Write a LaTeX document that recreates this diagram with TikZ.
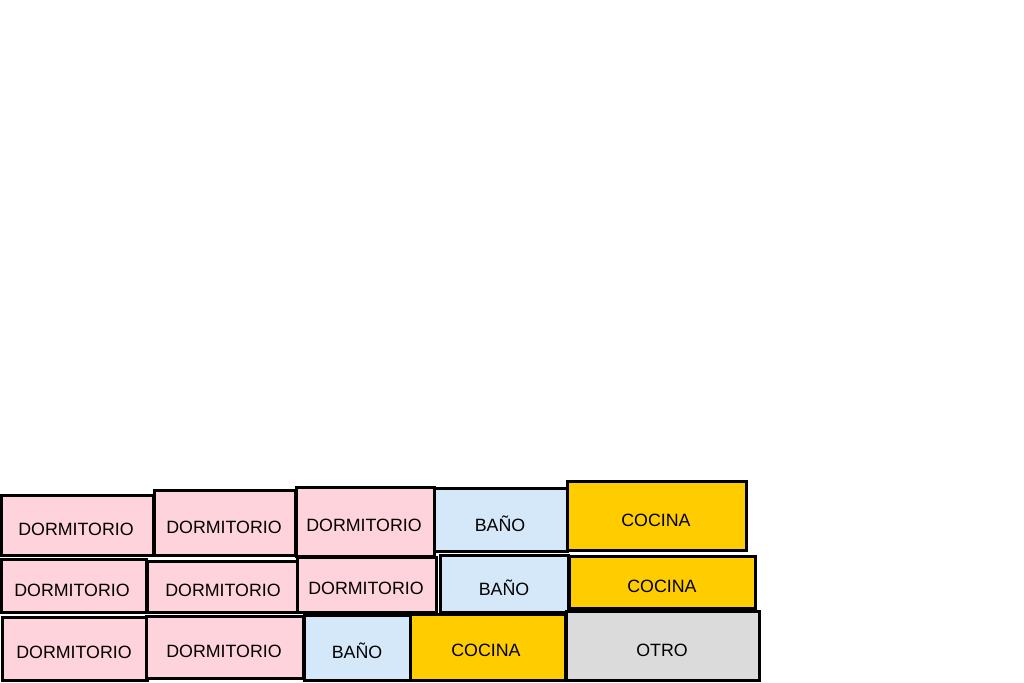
\documentclass[tikz,border=0pt]{standalone}
\usepackage{fontspec}
\setmainfont{Liberation Sans}
\definecolor{dorm}{HTML}{FFD3DC}
\definecolor{bano}{HTML}{D5E8FA}
\definecolor{coc}{HTML}{FFCC00}
\definecolor{otro}{HTML}{DBDBDB}
\tikzset{
  room/.style={draw=black, line width=3pt, line join=miter},
  lbl/.style={inner sep=0pt, font=\fontsize{17.8}{20}\selectfont, text=black}
}
\begin{document}
\begin{tikzpicture}[x=1pt,y=-1pt]
\useasboundingbox[fill=white] (0,0) rectangle (1024,682);
% row 1
\draw[room, fill=dorm] (1,495) rectangle (153,555);
\draw[room, fill=dorm] (154,490) rectangle (295,555);
\draw[room, fill=dorm] (296,487) rectangle (434,556);
\draw[room, fill=bano] (434,488) rectangle (567,551);
\draw[room, fill=coc] (567,481) rectangle (746,550);
% row 2
\draw[room, fill=dorm] (1,559) rectangle (146,612);
\draw[room, fill=dorm] (147,561) rectangle (297,612);
\draw[room, fill=dorm] (297,557) rectangle (436,612);
\draw[room, fill=bano] (440,555) rectangle (568,612);
\draw[room, fill=coc] (569,556) rectangle (755,608);
% row 3
\draw[room, fill=dorm] (2,617) rectangle (147,680);
\draw[room, fill=dorm] (146,616) rectangle (303,678);
\draw[room, fill=bano] (304,615) rectangle (410,680);
\draw[room, fill=coc] (410,614) rectangle (565,680);
\draw[room, fill=otro] (566,611) rectangle (759,680);
% labels
\node[lbl] (d1) at (76,529) {DORMITORIO};
\node[lbl] (d2) at (224,527) {DORMITORIO};
\node[lbl] (d3) at (364,525) {DORMITORIO};
\node[lbl] (b1) at (500,524) {BAÑO};
\node[lbl] (c1) at (656,520) {COCINA};
\node[lbl] (d4) at (72,590) {DORMITORIO};
\node[lbl] (d5) at (223,590) {DORMITORIO};
\node[lbl] (d6) at (366,588) {DORMITORIO};
\node[lbl] (b2) at (504,588) {BAÑO};
\node[lbl] (c2) at (662,586) {COCINA};
\node[lbl] (d7) at (74,652) {DORMITORIO};
\node[lbl] (d8) at (224,651) {DORMITORIO};
\node[lbl] (b3) at (357,651) {BAÑO};
\node[lbl] (c3) at (486,650) {COCINA};
\node[lbl] (o1) at (662,650) {OTRO};
\end{tikzpicture}
\end{document}
